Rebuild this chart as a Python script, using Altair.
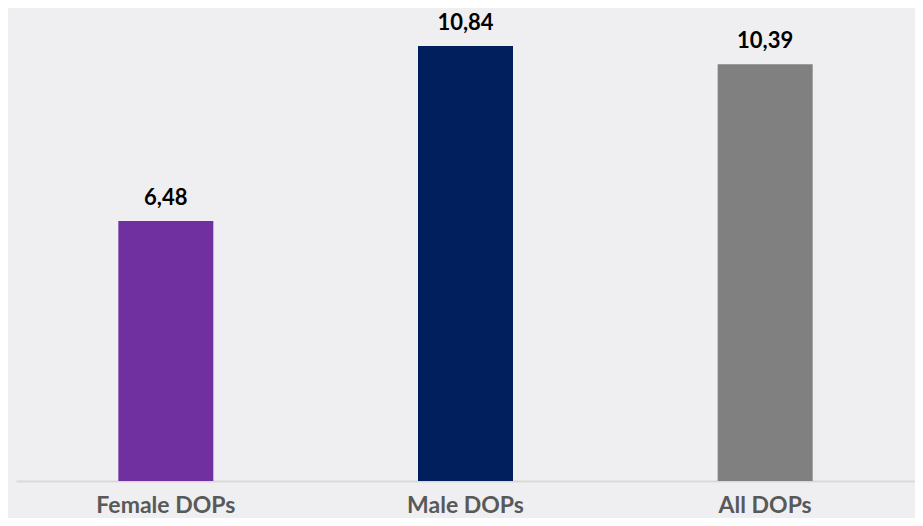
import altair as alt
import pandas as pd

categories = ["Female DOPs", "Male DOPs", "All DOPs"]
values = [6.48, 10.84, 10.39]
value_labels = ["6,48", "10,84", "10,39"]
colors = ["#7030a0", "#001f5c", "#808080"]

df = pd.DataFrame({"cat": categories, "val": values, "lab": value_labels, "col": colors})

x = alt.X("cat:N", sort=categories, title=None,
          scale=alt.Scale(paddingInner=0, paddingOuter=0),
          axis=alt.Axis(labelAngle=0, labelFont="Lato", labelFontWeight="bold",
                        labelFontSize=23, labelColor="#595959", labelPadding=13,
                        ticks=False, domainColor="#d9d9d9", domainWidth=2,
                        labelBaseline="top"))
y = alt.Y("val:Q", scale=alt.Scale(domain=[0, 11.79], nice=False, zero=True), axis=None)

bars = alt.Chart(df).mark_bar(size=95).encode(x=x, y=y, color=alt.Color("col:N", scale=None))
text = alt.Chart(df).mark_text(baseline="bottom", dy=-11, font="Lato", fontWeight="bold",
                               fontSize=22, color="#000000").encode(x=x, y=y, text="lab:N")

chart = (bars + text).properties(
    width=899, height=473,
    autosize=alt.AutoSizeParams(type="none"),
    padding={"left": 8, "top": 0, "right": 0, "bottom": 37},
    background="#efeff1",
).configure_view(stroke=None)

chart.save("out.html", embed_options={"renderer": "svg", "actions": False})
